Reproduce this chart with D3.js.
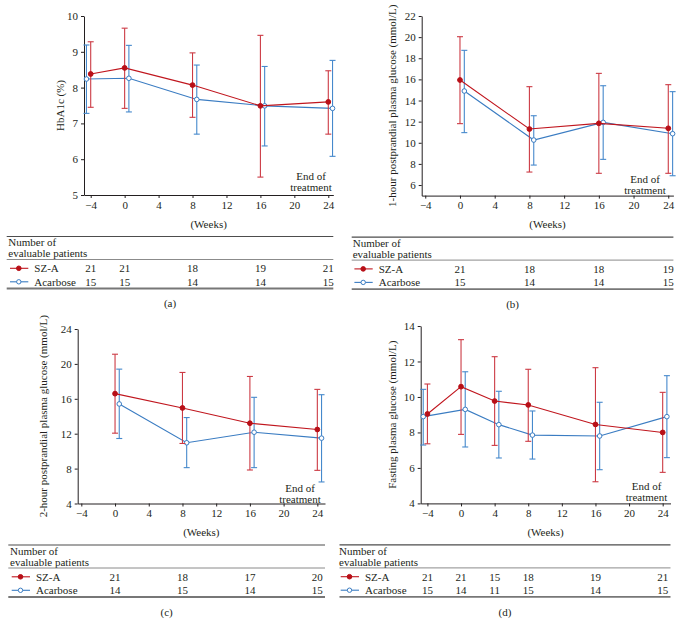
<!DOCTYPE html>
<html><head><meta charset="utf-8">
<script src="https://cdn.jsdelivr.net/npm/d3@7"></script>
<style>
html,body{margin:0;padding:0;background:#fff;}
svg text{font-family:"Liberation Serif","Times New Roman",serif;font-size:11px;fill:#231f20;}
</style></head>
<body>
<svg id="chart" width="680" height="634"></svg>
<script>
// ---------- DATA ----------
const xTickValues = [-4, 0, 4, 8, 12, 16, 20, 24];
const seriesNames = ["SZ-A", "Acarbose"];

// (a) HbA1c (%)
const hba1cWeeks = [-4, 0, 8, 16, 24];
const hba1cSZA   = [8.38, 8.55, 8.07, 7.49, 7.60];
const hba1cSZALo = [7.45, 7.42, 7.17, 5.50, 6.70];
const hba1cSZAHi = [9.28, 9.66, 8.97, 9.46, 8.47];
const hba1cAca   = [8.24, 8.26, 7.67, 7.49, 7.42];
const hba1cAcaLo = [7.28, 7.32, 6.70, 6.37, 6.08];
const hba1cAcaHi = [9.19, 9.18, 8.63, 8.59, 8.76];
const hba1cNSZA  = [21, 21, 18, 19, 21];
const hba1cNAca  = [15, 15, 14, 14, 15];
const hba1cYTicks = [5, 6, 7, 8, 9, 10];

// (b) 1-hour postprandial plasma glucose (mmol/L)
const ppg1Weeks = [0, 8, 16, 24];
const ppg1SZA   = [15.94, 11.30, 11.84, 11.37];
const ppg1SZALo = [11.81, 7.23, 7.11, 7.11];
const ppg1SZAHi = [20.04, 15.31, 16.57, 15.50];
const ppg1Aca   = [14.90, 10.26, 11.93, 10.86];
const ppg1AcaLo = [10.96, 7.89, 8.43, 6.88];
const ppg1AcaHi = [18.75, 12.56, 15.40, 14.84];
const ppg1NSZA  = [21, 18, 18, 19];
const ppg1NAca  = [15, 14, 14, 15];
const ppg1YTicks = [6, 8, 10, 12, 14, 16, 18, 20, 22];

// (c) 2-hour postprandial plasma glucose (mmol/L)
const ppg2Weeks = [0, 8, 16, 24];
const ppg2SZA   = [16.59, 14.95, 13.20, 12.48];
const ppg2SZALo = [12.06, 10.88, 7.84, 7.80];
const ppg2SZAHi = [21.11, 19.02, 18.56, 17.08];
const ppg2Aca   = [15.41, 10.96, 12.17, 11.49];
const ppg2AcaLo = [11.45, 8.11, 8.11, 6.47];
const ppg2AcaHi = [19.40, 13.85, 16.17, 16.47];
const ppg2NSZA  = [21, 18, 17, 20];
const ppg2NAca  = [14, 15, 14, 15];
const ppg2YTicks = [4, 8, 12, 16, 20, 24];

// (d) Fasting plasma glucose (mmol/L)
const fpgWeeks = [-4, 0, 4, 8, 16, 24];
const fpgSZA   = [9.04, 10.58, 9.77, 9.55, 8.45, 8.00];
const fpgSZALo = [7.36, 7.89, 7.27, 7.50, 5.22, 5.75];
const fpgSZAHi = [10.73, 13.23, 12.27, 11.56, 11.65, 10.26];
const fpgAca   = [8.89, 9.30, 8.44, 7.85, 7.80, 8.89];
const fpgAcaLo = [7.29, 7.18, 6.56, 6.50, 5.90, 6.58];
const fpgAcaHi = [10.43, 11.42, 10.32, 9.21, 9.70, 11.20];
const fpgNSZA  = [21, 21, 15, 18, 19, 21];
const fpgNAca  = [15, 14, 11, 15, 14, 15];
const fpgYTicks = [4, 6, 8, 10, 12, 14];

// ---------- LAYOUT ----------
const panels = [
  {label:"(a)", yLabel:"HbA1c (%)", weeks:hba1cWeeks,
   sza:[hba1cSZA,hba1cSZALo,hba1cSZAHi], aca:[hba1cAca,hba1cAcaLo,hba1cAcaHi],
   nS:hba1cNSZA, nA:hba1cNAca, yTicks:hba1cYTicks, yDom:[5,10],
   xDom:[-4.79,24.59], xR:[84,333.3], yR:[195,16], yLabX:60,
   tabL:6.7, txtL:8.3, endX:311, endY:[176,186.7]},
  {label:"(b)", yLabel:"1-hour postprandial plasma glucose (mmol/L)", weeks:ppg1Weeks,
   sza:[ppg1SZA,ppg1SZALo,ppg1SZAHi], aca:[ppg1Aca,ppg1AcaLo,ppg1AcaHi],
   nS:ppg1NSZA, nA:ppg1NAca, yTicks:ppg1YTicks, yDom:[5,22],
   xDom:[-4.41,24.59], xR:[421.7,673.4], yR:[195.6,16], yLabX:391.7,
   tabL:351.7, txtL:352.7, endX:645, endY:[179,190]},
  {label:"(c)", yLabel:"2-hour postprandial plasma glucose (mmol/L)", weeks:ppg2Weeks,
   sza:[ppg2SZA,ppg2SZALo,ppg2SZAHi], aca:[ppg2Aca,ppg2AcaLo,ppg2AcaHi],
   nS:ppg2NSZA, nA:ppg2NAca, yTicks:ppg2YTicks, yDom:[4,24],
   xDom:[-4.43,24.91], xR:[77.7,325], yR:[503.5,329], yLabX:43.3,
   tabL:8.3, txtL:10, endX:300, endY:[487.7,499]},
  {label:"(d)", yLabel:"Fasting plasma glucose (mmol/L)", weeks:fpgWeeks,
   sza:[fpgSZA,fpgSZALo,fpgSZAHi], aca:[fpgAca,fpgAcaLo,fpgAcaHi],
   nS:fpgNSZA, nA:fpgNAca, yTicks:fpgYTicks, yDom:[4,14],
   xDom:[-4.80,24.93], xR:[420.7,670.5], yR:[503.4,326], yLabX:391.7,
   tabL:339.5, txtL:339, endX:646.5, endY:[486,496.7]}
];

const colors = {
  sza:{line:"#c0161e", err:"#cc3a44", fill:"#b80f17"},
  aca:{line:"#3a7cc2", err:"#4689cc", fill:"#ffffff"}
};
const dodge = w => (w < 0 ? -0.5 : 0.5);
const fmtTick = d => (d < 0 ? "\u2212" + Math.abs(d) : String(d));

const svg = d3.select("#chart");

panels.forEach(p => {
  const g = svg.append("g");
  const x = d3.scaleLinear().domain(p.xDom).range(p.xR);
  const y = d3.scaleLinear().domain(p.yDom).range(p.yR);
  const axisY = p.yR[0];

  // axes
  const xa = g.append("g").attr("transform", `translate(0,${axisY})`)
    .call(d3.axisBottom(x).tickValues(xTickValues).tickFormat(fmtTick).tickSize(3).tickSizeOuter(0).tickPadding(3));
  const ya = g.append("g").attr("transform", `translate(${p.xR[0]},0)`)
    .call(d3.axisLeft(y).tickValues(p.yTicks).tickFormat(fmtTick).tickSize(3).tickSizeOuter(0).tickPadding(3));
  [xa, ya].forEach(a => {
    a.selectAll("path.domain").attr("stroke", "#231f20").attr("stroke-width", 1);
    a.selectAll(".tick line").attr("stroke", "#231f20");
    a.selectAll(".tick text").style("font-family", "Liberation Serif").style("font-size", "11px").attr("fill", "#231f20");
  });

  // y label
  const yMid = (p.yR[0] + p.yR[1]) / 2;
  g.append("text").attr("transform", `translate(${p.yLabX},${yMid}) rotate(-90)`)
    .attr("text-anchor", "middle").attr("dy", "0.35em").text(p.yLabel);

  // weeks label
  g.append("text").attr("x", (p.xR[0] + p.xR[1]) / 2).attr("y", axisY + 29)
    .attr("text-anchor", "middle").attr("dy", "0.35em").text("(Weeks)");

  // end of treatment
  g.append("text").attr("x", p.endX).attr("y", p.endY[0]).attr("text-anchor", "middle").attr("dy", "0.35em").text("End of");
  g.append("text").attr("x", p.endX).attr("y", p.endY[1]).attr("text-anchor", "middle").attr("dy", "0.35em").text("treatment");

  // series
  const series = [
    {key:"aca", vals:p.aca, xOf: w => w + dodge(w), open:true},
    {key:"sza", vals:p.sza, xOf: w => w, open:false}
  ];
  series.forEach(s => {
    const c = colors[s.key];
    const pts = p.weeks.map((w, i) => ({x:x(s.xOf(w)), m:y(s.vals[0][i]), lo:y(s.vals[1][i]), hi:y(s.vals[2][i])}));
    const eg = g.append("g").attr("stroke", c.err).attr("stroke-width", 1.1).attr("fill", "none");
    pts.forEach(d => {
      eg.append("line").attr("x1", d.x).attr("x2", d.x).attr("y1", d.lo).attr("y2", d.hi);
      eg.append("line").attr("x1", d.x - 3).attr("x2", d.x + 3).attr("y1", d.lo).attr("y2", d.lo);
      eg.append("line").attr("x1", d.x - 3).attr("x2", d.x + 3).attr("y1", d.hi).attr("y2", d.hi);
    });
    g.append("path").datum(pts)
      .attr("d", d3.line().x(d => d.x).y(d => d.m))
      .attr("fill", "none").attr("stroke", c.line).attr("stroke-width", 1.1);
    g.selectAll(null).data(pts).enter().append("circle")
      .attr("cx", d => d.x).attr("cy", d => d.m).attr("r", s.open ? 2.3 : 2.4)
      .attr("fill", c.fill).attr("stroke", s.open ? c.line : c.fill).attr("stroke-width", 1);
  });

  // table
  const t = svg.append("g");
  const tr = p.xR[1];
  t.append("line").attr("x1", p.tabL).attr("x2", tr).attr("y1", axisY + 41.5).attr("y2", axisY + 41.5)
    .attr("stroke", "#4d4d4d").attr("stroke-width", 1.2);
  t.append("text").attr("x", p.txtL).attr("y", axisY + 47.5).attr("dy", "0.35em").text("Number of");
  t.append("text").attr("x", p.txtL).attr("y", axisY + 58.5).attr("dy", "0.35em").text("evaluable patients");
  t.append("line").attr("x1", p.tabL).attr("x2", tr).attr("y1", axisY + 64.5).attr("y2", axisY + 64.5)
    .attr("stroke", "#6d6d6d").attr("stroke-width", 0.8);
  t.append("line").attr("x1", p.tabL).attr("x2", tr).attr("y1", axisY + 93.5).attr("y2", axisY + 93.5)
    .attr("stroke", "#777", ).attr("stroke-width", 1.8);

  const rows = [
    {name:seriesNames[0], key:"sza", n:p.nS, yy:axisY + 73.3, open:false},
    {name:seriesNames[1], key:"aca", n:p.nA, yy:axisY + 86.8, open:true}
  ];
  rows.forEach(r => {
    const c = colors[r.key];
    t.append("line").attr("x1", p.txtL + 1.7).attr("x2", p.txtL + 20).attr("y1", r.yy).attr("y2", r.yy)
      .attr("stroke", c.line).attr("stroke-width", 1.1);
    t.append("circle").attr("cx", p.txtL + 10.5).attr("cy", r.yy).attr("r", r.open ? 2.2 : 2.3)
      .attr("fill", c.fill).attr("stroke", r.open ? c.line : c.fill).attr("stroke-width", 1);
    t.append("text").attr("x", p.txtL + 26).attr("y", r.yy).attr("dy", "0.35em").text(r.name);
    t.selectAll(null).data(p.weeks).enter().append("text")
      .attr("x", (w) => x(w)).attr("y", r.yy).attr("dy", "0.35em").attr("text-anchor", "middle")
      .text((w, i) => r.n[i]);
  });

  svg.append("text").attr("x", (p.tabL + tr) / 2).attr("y", axisY + 108.5)
    .attr("dy", "0.35em").attr("text-anchor", "middle").text(p.label);
});
</script>
</body></html>
